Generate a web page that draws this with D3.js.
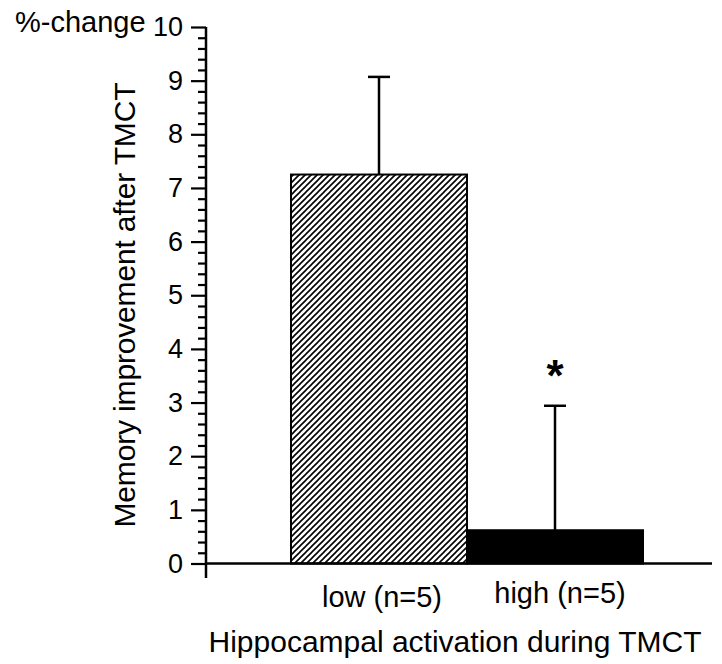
<!DOCTYPE html>
<html>
<head>
<meta charset="utf-8">
<script src="https://cdn.jsdelivr.net/npm/d3@7"></script>
<style>
  body{margin:0;background:#fff;}
  svg text{font-family:"Liberation Sans",Arial,Helvetica,sans-serif;fill:#000;}
</style>
</head>
<body>
<svg class="memory-chart" width="722" height="664"></svg>
<script>
const categories = ['low (n=5)', 'high (n=5)']
const means = [7.25, 0.62]
const errors = [1.82, 2.32]
const marks = ['', '*']
const majorTicks = [0,1,2,3,4,5,6,7,8,9,10]
const minorTicks = d3.range(0, 50).map(d => d / 5).filter(d => d % 1 !== 0)

const svg = d3.select('svg.memory-chart')

const y = d3.scaleLinear().domain([0, 10]).range([563.5, 27])
const x = d3.scaleBand().domain(categories).range([291, 643]).padding(0)
const axisX = 206

// hatch for the low bar
svg.append('defs').append('pattern')
   .attr('id', 'hatch')
   .attr('patternUnits', 'userSpaceOnUse')
   .attr('width', 6).attr('height', 6)
   .append('path')
   .attr('d', 'M-1,1 l2,-2 M0,6 l6,-6 M5,7 l2,-2')
   .attr('stroke', '#000')
   .attr('stroke-width', 1.6)

const bars = svg.append('g').attr('class', 'bars')
bars.selectAll('rect')
    .data(categories)
    .join('rect')
    .attr('x', d => x(d))
    .attr('width', x.bandwidth())
    .attr('y', (d, i) => y(means[i]))
    .attr('height', (d, i) => y(0) - y(means[i]))
    .attr('fill', (d, i) => i === 0 ? 'url(#hatch)' : '#000')
    .attr('stroke', '#000')
    .attr('stroke-width', 2)

// error bars (upper only)
const err = svg.append('g').attr('class', 'errors')
  .attr('stroke', '#000').attr('stroke-width', 2.5)
categories.forEach((c, i) => {
  const cx = x(c) + x.bandwidth() / 2
  err.append('line')
     .attr('x1', cx).attr('x2', cx)
     .attr('y1', y(means[i])).attr('y2', y(means[i] + errors[i]))
  err.append('line')
     .attr('x1', cx - 11).attr('x2', cx + 11)
     .attr('y1', y(means[i] + errors[i])).attr('y2', y(means[i] + errors[i]))
})

svg.append('g')
   .selectAll('text')
   .data(categories)
   .join('text')
   .attr('x', d => x(d) + x.bandwidth() / 2)
   .attr('y', (d, i) => y(means[i] + errors[i]) - 15)
   .attr('text-anchor', 'middle')
   .attr('font-size', 44)
   .attr('font-weight', 'bold')
   .text((d, i) => marks[i])

// y axis
const yMajor = d3.axisLeft(y).tickValues(majorTicks).tickSize(15).tickPadding(8).tickFormat(d3.format('d'))
const yMinor = d3.axisLeft(y).tickValues(minorTicks).tickSize(8).tickFormat('')

const gMinor = svg.append('g').attr('transform', `translate(${axisX},0)`).call(yMinor)
const gMajor = svg.append('g').attr('transform', `translate(${axisX},0)`).call(yMajor)
;[gMinor, gMajor].forEach(g => {
  g.select('.domain').remove()
  g.selectAll('line').attr('stroke', '#000').attr('stroke-width', 2.2)
})
gMajor.selectAll('text')
      .attr('font-size', 27)
      .attr('font-family', '"Liberation Sans",Arial,Helvetica,sans-serif')
      .attr('fill', '#000')

svg.append('line')
   .attr('x1', axisX).attr('x2', axisX)
   .attr('y1', y(10)).attr('y2', 578)
   .attr('stroke', '#000').attr('stroke-width', 2.5)

// x axis line
svg.append('line')
   .attr('x1', axisX).attr('x2', 712)
   .attr('y1', y(0)).attr('y2', y(0))
   .attr('stroke', '#000').attr('stroke-width', 2.5)

// category labels
svg.append('g')
   .selectAll('text')
   .data(categories)
   .join('text')
   .attr('x', (d, i) => x(d) + x.bandwidth() / 2 + (i === 0 ? 3 : 5))
   .attr('y', (d, i) => i === 0 ? 607 : 603)
   .attr('text-anchor', 'middle')
   .attr('font-size', 29)
   .text(d => d)

svg.append('text')
   .attr('x', 455).attr('y', 652)
   .attr('text-anchor', 'middle')
   .attr('font-size', 30)
   .text('Hippocampal activation during TMCT')

svg.append('text')
   .attr('transform', 'translate(135,305) rotate(-90)')
   .attr('text-anchor', 'middle')
   .attr('font-size', 30)
   .attr('textLength', 445)
   .text('Memory improvement after TMCT')

svg.append('text')
   .attr('x', 15).attr('y', 32)
   .attr('font-size', 29)
   .text('%-change')
</script>
</body>
</html>
